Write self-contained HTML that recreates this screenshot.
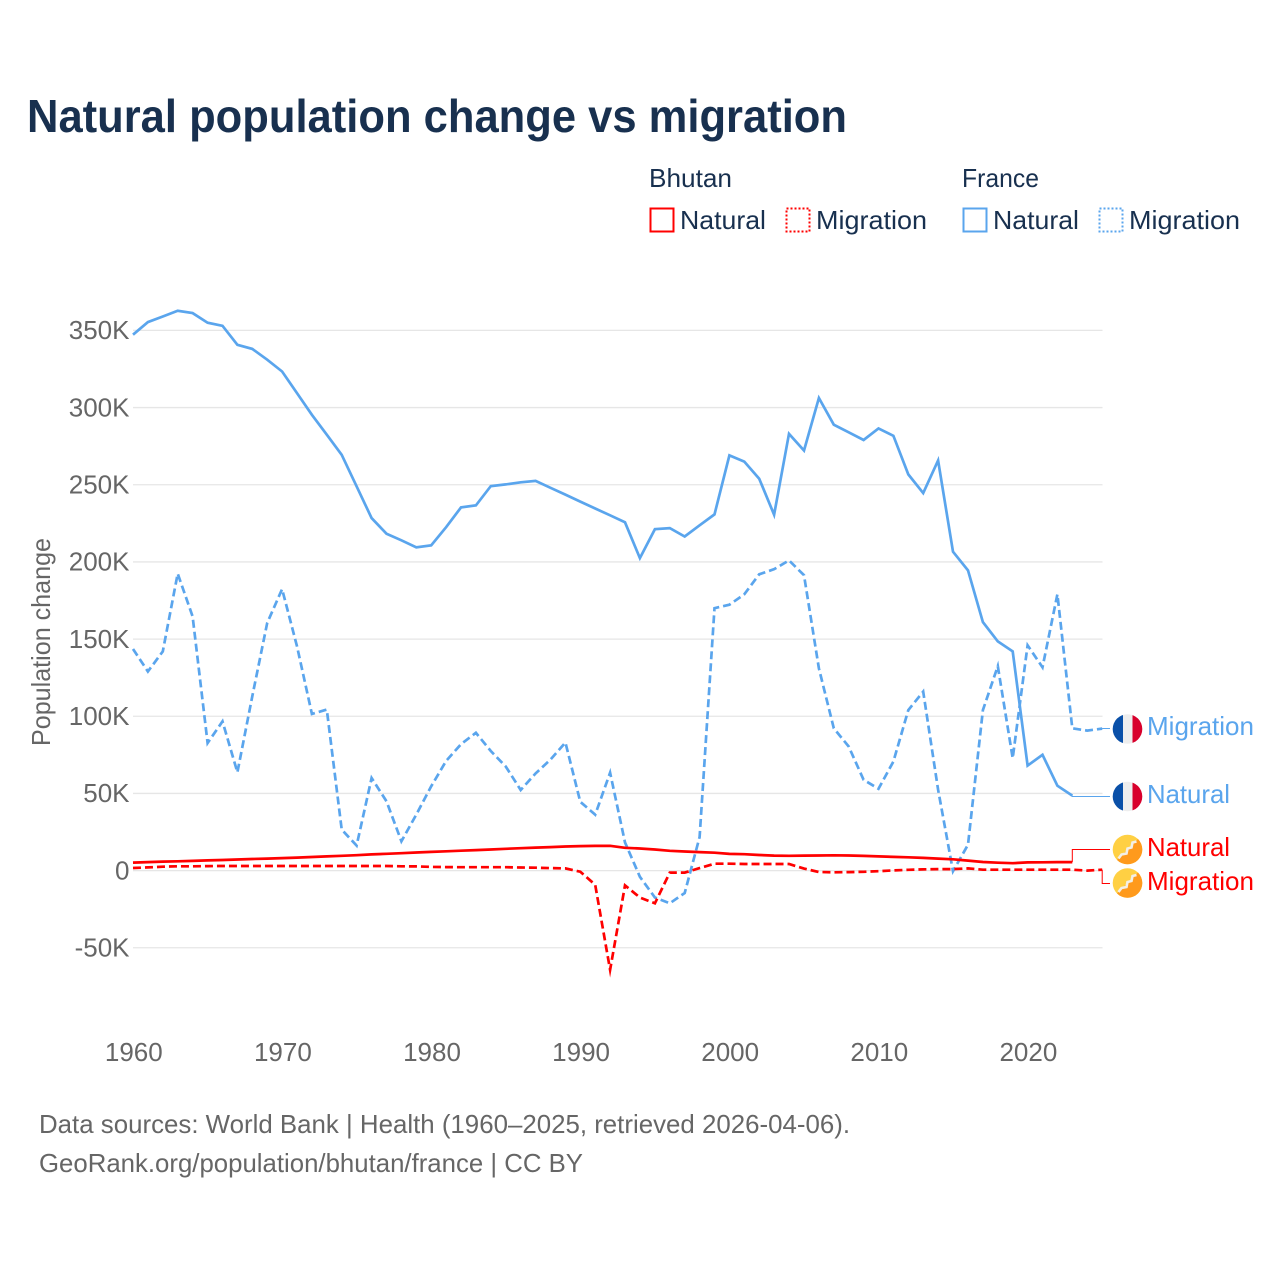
<!DOCTYPE html>
<html lang="en">
<head>
<meta charset="utf-8">
<title>Natural population change vs migration</title>
<style>
html,body{margin:0;padding:0;background:#fff;}
svg{display:block;font-family:"Liberation Sans",sans-serif;}
.leg{fill:#18304f;font-size:26px;}
.tick{fill:#666;font-size:26px;}
.foot{fill:#666;font-size:26px;}
</style>
</head>
<body>
<svg id="chart" width="1280" height="1280" viewBox="0 0 1280 1280" xmlns="http://www.w3.org/2000/svg">
  <rect x="0" y="0" width="1280" height="1280" fill="#fff"/>
  <text x="27" y="132" font-size="46" font-weight="700" fill="#18304f" textLength="820" lengthAdjust="spacingAndGlyphs">Natural population change vs migration</text>

  <g>
    <text class="leg" x="649" y="187" textLength="83" lengthAdjust="spacingAndGlyphs">Bhutan</text>
    <text class="leg" x="962" y="187" textLength="77" lengthAdjust="spacingAndGlyphs">France</text>
    <rect x="650.5" y="208.5" width="23" height="23" fill="none" stroke="#ff0000" stroke-width="2"/>
    <text class="leg" x="680" y="229" textLength="86" lengthAdjust="spacingAndGlyphs">Natural</text>
    <rect x="786.5" y="208.5" width="23" height="23" fill="none" stroke="#ff0000" stroke-width="2" stroke-dasharray="2 2"/>
    <text class="leg" x="816" y="229" textLength="111" lengthAdjust="spacingAndGlyphs">Migration</text>
    <rect x="963.5" y="208.5" width="23" height="23" fill="none" stroke="#5aa5ed" stroke-width="2"/>
    <text class="leg" x="993" y="229" textLength="86" lengthAdjust="spacingAndGlyphs">Natural</text>
    <rect x="1099.5" y="208.5" width="23" height="23" fill="none" stroke="#5aa5ed" stroke-width="2" stroke-dasharray="2 2"/>
    <text class="leg" x="1129" y="229" textLength="111" lengthAdjust="spacingAndGlyphs">Migration</text>
  </g>

  <g id="grid"></g>
  <g id="yticks"></g>
  <g id="xticks"></g>
  <text class="tick" transform="translate(50 642) rotate(-90)" text-anchor="middle" textLength="208" lengthAdjust="spacingAndGlyphs">Population change</text>
  <g id="series"></g>

  <g>
    <g transform="translate(1127.5 729)">
      <clipPath id="c1"><circle r="14.8"/></clipPath>
      <g clip-path="url(#c1)"><rect x="-15" y="-15" width="10.5" height="30" fill="#0a50a8"/><rect x="-4.5" y="-15" width="9.5" height="30" fill="#eeeeee"/><rect x="5" y="-15" width="10" height="30" fill="#d8002c"/></g>
    </g>
    <text x="1147" y="735" font-size="26" fill="#5aa5ed" textLength="107" lengthAdjust="spacingAndGlyphs">Migration</text>
  </g>
  <g>
    <g transform="translate(1127.5 796.5)">
      <clipPath id="c2"><circle r="14.8"/></clipPath>
      <g clip-path="url(#c2)"><rect x="-15" y="-15" width="10.5" height="30" fill="#0a50a8"/><rect x="-4.5" y="-15" width="9.5" height="30" fill="#eeeeee"/><rect x="5" y="-15" width="10" height="30" fill="#d8002c"/></g>
    </g>
    <text x="1147" y="803" font-size="26" fill="#5aa5ed" textLength="83" lengthAdjust="spacingAndGlyphs">Natural</text>
  </g>
  <g>
    <g transform="translate(1127.5 849.5)">
      <clipPath id="c3"><circle r="14.8"/></clipPath>
      <g clip-path="url(#c3)"><rect x="-15" y="-15" width="30" height="30" fill="#ffd043"/><path d="M15 -15V15H-15Z" fill="#ff9a1c"/><path d="M-9 9L-6 5L-1 4L0 -1L4 -2L5 -7L9 -8" fill="none" stroke="#f3efe6" stroke-width="2.6"/></g>
    </g>
    <text x="1147" y="856" font-size="26" fill="#ff0000" textLength="83" lengthAdjust="spacingAndGlyphs">Natural</text>
  </g>
  <g>
    <g transform="translate(1127.5 883)">
      <clipPath id="c4"><circle r="14.8"/></clipPath>
      <g clip-path="url(#c4)"><rect x="-15" y="-15" width="30" height="30" fill="#ffd043"/><path d="M15 -15V15H-15Z" fill="#ff9a1c"/><path d="M-9 9L-6 5L-1 4L0 -1L4 -2L5 -7L9 -8" fill="none" stroke="#f3efe6" stroke-width="2.6"/></g>
    </g>
    <text x="1147" y="890" font-size="26" fill="#ff0000" textLength="107" lengthAdjust="spacingAndGlyphs">Migration</text>
  </g>

  <text class="foot" x="39" y="1133" textLength="811" lengthAdjust="spacingAndGlyphs">Data sources: World Bank | Health (1960–2025, retrieved 2026-04-06).</text>
  <text class="foot" x="39" y="1172" textLength="544" lengthAdjust="spacingAndGlyphs">GeoRank.org/population/bhutan/france | CC BY</text>
</svg>
<script>
const startYear = 1960;
const yTickValues = [-50, 0, 50, 100, 150, 200, 250, 300, 350];
const yTickLabels = ['-50K', '0', '50K', '100K', '150K', '200K', '250K', '300K', '350K'];
const xTickYears = [1960, 1970, 1980, 1990, 2000, 2010, 2020];
const franceNatural = [347.2,355.4,359,362.7,361.2,355,353,340.7,338,331,323.4,309.4,295.3,282.4,269.4,249,228.4,218.3,214,209.4,210.7,222.5,235.3,236.6,249.1,250.2,251.6,252.5,248,243.6,239.1,234.6,230.2,225.7,202.5,221.2,221.9,216.5,223.7,230.8,269,265,253.9,230.6,283,272.2,306.2,288.9,284,279,286.5,281.7,256.7,244.6,265.7,206.6,194.5,161,148.5,142,68,75,55,48.6];
const franceMigration = [143.6,129,142,192.4,164.7,82.7,96.7,63.7,113,160.4,182.4,145.3,101.5,104.3,26.6,16.2,60,44.9,19,36.3,54.6,71,81.9,89.3,77.5,67.4,52.2,63,71.9,83,44.6,36.2,63.4,18.3,-4,-17.4,-21.2,-14.5,21.7,170,172.3,179,192,195.3,201,191.4,131,92.2,80.4,58.8,53,70.7,104,116,52.4,-0.4,16.8,104,132.5,72.8,146,131.7,179,92.2,90.7,92];
const bhutanNatural = [5.2,5.5,5.8,6,6.3,6.6,6.9,7.2,7.5,7.8,8.1,8.4,8.8,9.2,9.6,10,10.5,10.9,11.3,11.7,12.1,12.5,12.9,13.3,13.7,14.1,14.5,14.9,15.2,15.6,15.9,16,16.1,14.8,14.3,13.7,12.8,12.4,12,11.6,10.8,10.6,10.1,9.7,9.6,9.7,9.8,9.9,9.8,9.5,9.2,8.9,8.6,8.2,7.8,7.3,6.5,5.6,5.1,4.8,5.3,5.4,5.5,5.5];
const bhutanMigration = [1.7,2.1,2.5,2.8,2.8,2.9,3,3,3,3,3,3,3,3,3,3,3,3,2.8,2.7,2.4,2.3,2.2,2.2,2.2,2.2,2,1.9,1.6,1.4,-0.7,-9.2,-64.3,-9.6,-17.4,-21.2,-1.3,-1.3,1.6,4.5,4.5,4.3,4.3,4.3,4.3,1.3,-0.9,-1.1,-1,-0.8,-0.4,0.1,0.5,0.8,1,1,1.4,0.6,0.6,0.6,0.6,0.6,0.6,0.6,0,0.6];

const NS = 'http://www.w3.org/2000/svg';
function xScale(year) { return 133 + (year - 1960) * 14.91; }
function yScale(v) { return 870.6 - v * 1.5434; }
function make(tag, attrs, parent) {
  const el = document.createElementNS(NS, tag);
  for (const k in attrs) el.setAttribute(k, attrs[k]);
  parent.appendChild(el);
  return el;
}
const gridG = document.getElementById('grid');
const yG = document.getElementById('yticks');
const xG = document.getElementById('xticks');
const seriesG = document.getElementById('series');

yTickValues.forEach(function (v, i) {
  const y = yScale(v);
  const g = make('line', { x1: 133, x2: 1102.5, y1: y, y2: y, stroke: '#e6e6e6', 'stroke-width': 1.3 }, gridG);
  
  
  const t = make('text', { x: 129.5, y: yScale(v) + 8.8, 'text-anchor': 'end', class: 'tick' }, yG);
  
  
  t.textContent = yTickLabels[i];
});
xTickYears.forEach(function (yr) {
  const t = make('text', { x: xScale(yr) + 0.8, y: 1061, 'text-anchor': 'middle', class: 'tick' }, xG);
  
  
  t.textContent = yr;
});
function pts(arr) {
  return arr.map(function (v, i) { return xScale(startYear + i).toFixed(1) + ',' + yScale(v).toFixed(1); });
}
function lastPoint(arr) {
  return [xScale(startYear + arr.length - 1), yScale(arr[arr.length - 1])];
}
function drawLine(arr, color, dash) {
  const attrs = { points: pts(arr).join(' '), fill: 'none', stroke: color, 'stroke-width': 2.7, 'stroke-linejoin': 'miter', 'stroke-miterlimit': 6 };
  if (dash) attrs['stroke-dasharray'] = '8 4';
  return make('polyline', attrs, seriesG);
}
function drawConnector(arr, color, labelY) {
  const p = lastPoint(arr);
  return make('path', { d: 'M' + p[0].toFixed(1) + ' ' + p[1].toFixed(1) + 'V' + labelY + 'H1110', fill: 'none', stroke: color, 'stroke-width': 1 }, seriesG);
}
const l1 = drawLine(franceNatural, '#5aa5ed', false);


const l2 = drawLine(franceMigration, '#5aa5ed', true);


const l3 = drawLine(bhutanNatural, '#ff0000', false);


const l4 = drawLine(bhutanMigration, '#ff0000', true);


const c1 = drawConnector(franceNatural, '#5aa5ed', 796.5);


const c2 = drawConnector(franceMigration, '#5aa5ed', 728.5);


const c3 = drawConnector(bhutanNatural, '#ff0000', 849.5);


const c4 = drawConnector(bhutanMigration, '#ff0000', 883.5);


</script>
</body>
</html>
